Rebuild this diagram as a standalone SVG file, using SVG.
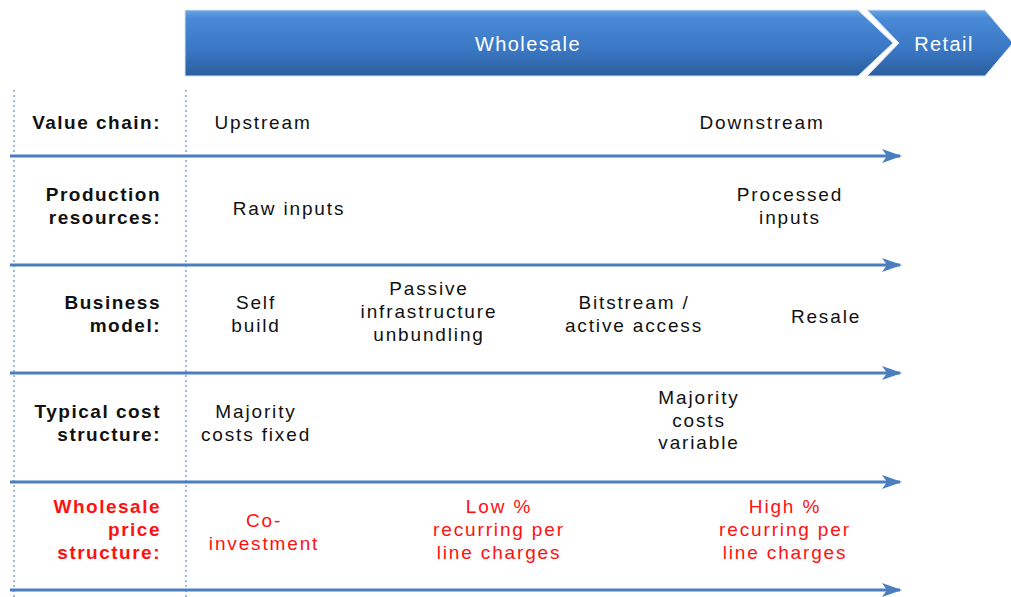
<svg xmlns="http://www.w3.org/2000/svg" width="1011" height="597" viewBox="0 0 1011 597">
<defs>
<linearGradient id="bg" x1="0" y1="0" x2="0" y2="1">
<stop offset="0" stop-color="#6aa6e6"/>
<stop offset="0.12" stop-color="#4a8ad6"/>
<stop offset="0.6" stop-color="#3a77c4"/>
<stop offset="1" stop-color="#2b5f9e"/>
</linearGradient>
<marker id="ah" viewBox="0 0 20 14" refX="18" refY="7" markerWidth="20" markerHeight="14" markerUnits="userSpaceOnUse" orient="auto">
<path d="M0,0 L20,7 L0,14 L5,7 Z" fill="#4a7ebf"/>
</marker>
</defs>
<style>
.t{font-family:"Liberation Sans",Arial,sans-serif;font-size:19px;letter-spacing:1.85px;fill:#111;text-anchor:middle}
.l{font-family:"Liberation Sans",Arial,sans-serif;font-size:19px;font-weight:bold;letter-spacing:1.5px;fill:#111;text-anchor:end}
.red{fill:#ff1010}
.h{font-family:"Liberation Sans",Arial,sans-serif;font-size:20px;letter-spacing:1.4px;fill:#fff;text-anchor:middle}
.ar{stroke:#4a7ebf;stroke-width:3;fill:none;marker-end:url(#ah)}
.dv{stroke:#7ea6d6;stroke-width:1.5;stroke-dasharray:2,3;fill:none}
</style>
<g id="wholesale">
<path d="M185,10 L858,10 L893,43 L858,76 L185,76 Z" fill="url(#bg)" stroke="#d8e4f2" stroke-width="1"/>
<text class="h" x="528" y="51">Wholesale</text>
</g>
<g id="retail">
<path d="M867,10 L985,10 L1013,43 L985,76 L867,76 L899,43 Z" fill="url(#bg)" stroke="#d8e4f2" stroke-width="1"/>
<text class="h" x="944" y="51">Retail</text>
</g>
<g id="connectors">
<line class="dv" x1="14" y1="90" x2="14" y2="597"/>
<line class="dv" x1="186" y1="90" x2="186" y2="597"/>
<line class="ar" x1="10" y1="156" x2="900" y2="156"/>
<line class="ar" x1="10" y1="265" x2="900" y2="265"/>
<line class="ar" x1="10" y1="373" x2="900" y2="373"/>
<line class="ar" x1="10" y1="482" x2="900" y2="482"/>
<line class="ar" x1="10" y1="590" x2="900" y2="590"/>
</g>
<g id="row-value-chain">
<text class="l" x="161" y="129">Value chain:</text>
<text class="t" x="263" y="129">Upstream</text>
<text class="t" x="762" y="129">Downstream</text>
</g>
<g id="row-production">
<text class="l" x="161" y="201">Production</text>
<text class="l" x="161" y="224">resources:</text>
<text class="t" x="289" y="215">Raw inputs</text>
<text class="t" x="790" y="201">Processed</text>
<text class="t" x="790" y="224">inputs</text>
</g>
<g id="row-business">
<text class="l" x="161" y="309">Business</text>
<text class="l" x="161" y="332">model:</text>
<text class="t" x="256" y="309">Self</text>
<text class="t" x="256" y="332">build</text>
<text class="t" x="429" y="295">Passive</text>
<text class="t" x="429" y="318">infrastructure</text>
<text class="t" x="429" y="341">unbundling</text>
<text class="t" x="634" y="309">Bitstream /</text>
<text class="t" x="634" y="332">active access</text>
<text class="t" x="826" y="323">Resale</text>
</g>
<g id="row-cost">
<text class="l" x="161" y="418">Typical cost</text>
<text class="l" x="161" y="441">structure:</text>
<text class="t" x="256" y="418">Majority</text>
<text class="t" x="256" y="441">costs fixed</text>
<text class="t" x="699" y="404">Majority</text>
<text class="t" x="699" y="427">costs</text>
<text class="t" x="699" y="449">variable</text>
</g>
<g id="row-price">
<text class="l red" x="161" y="513">Wholesale</text>
<text class="l red" x="161" y="536">price</text>
<text class="l red" x="161" y="559">structure:</text>
<text class="t red" x="264" y="527">Co-</text>
<text class="t red" x="264" y="550">investment</text>
<text class="t red" x="499" y="513">Low %</text>
<text class="t red" x="499" y="536">recurring per</text>
<text class="t red" x="499" y="559">line charges</text>
<text class="t red" x="785" y="513">High %</text>
<text class="t red" x="785" y="536">recurring per</text>
<text class="t red" x="785" y="559">line charges</text>
</g>
</svg>
